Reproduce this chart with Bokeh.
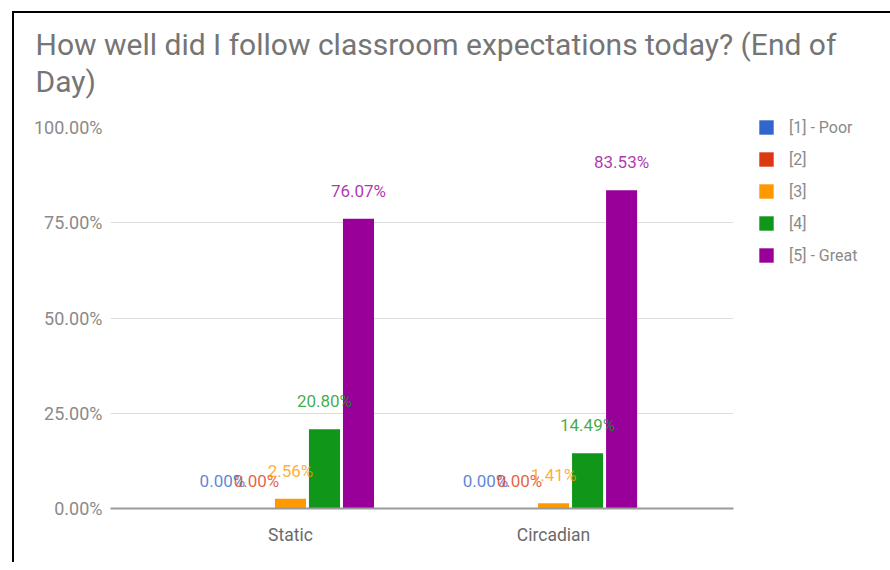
from bokeh.plotting import figure
from bokeh.models import (ColumnDataSource, FactorRange, Range1d, FixedTicker,
                          PrintfTickFormatter, Legend, LegendItem, Title)
from bokeh.transform import dodge
from bokeh.core.properties import value
from bokeh.embed import file_html
from bokeh.resources import INLINE

# ---- data ----
title_line1 = "How well did I follow classroom expectations today? (End of"
title_line2 = "Day)"
categories = ["Static", "Circadian"]
series_names = ["[1] - Poor", "[2]", "[3]", "[4]", "[5] - Great"]
poor = [0.00, 0.00]
rating2 = [0.00, 0.00]
rating3 = [2.56, 1.41]
rating4 = [20.80, 14.49]
great = [76.07, 83.53]
y_ticks = [0, 25, 50, 75, 100]

series_values = [poor, rating2, rating3, rating4, great]
colors = ["#3366cc", "#dc3912", "#ff9900", "#109618", "#990099"]

FONT = "Roboto"

p = figure(x_range=FactorRange(factors=categories, range_padding=0.184),
           y_range=Range1d(0, 100),
           frame_width=623, frame_height=381,
           min_border_left=96, min_border_top=114,
           min_border_right=149, min_border_bottom=54,
           output_backend="svg", toolbar_location=None,
           styles={"margin-left": "12px", "margin-top": "11px",
                   "border-left": "2px solid black", "border-top": "2px solid black",
                   "box-sizing": "content-box", "overflow": "visible"})

p.background_fill_color = "white"
p.border_fill_color = "white"
p.outline_line_color = None

# spacer between the title and the plot, then the two title lines
p.add_layout(Title(text=" ", text_font_size="10px", standoff=16), "above")
for txt in [title_line2, title_line1]:
    t = Title(text=txt, text_font=FONT, text_font_size="30px",
              text_font_style="normal", text_color="#757575",
              align="left", offset=-75, standoff=0)
    p.add_layout(t, "above")

bar_w = 0.118
step = 0.1293
renderers = []
sources = []
for i, (name, vals) in enumerate(zip(series_names, series_values)):
    src = ColumnDataSource(dict(cat=categories, val=vals,
                                lab=["%.2f%%" % v for v in vals]))
    sources.append(src)
    r = p.vbar(x=dodge("cat", (i - 2) * step, range=p.x_range), top="val",
               width=bar_w, source=src, fill_color=colors[i], line_color=None)
    renderers.append(r)

for i, src in enumerate(sources):
    p.text(x=dodge("cat", (i - 2) * step, range=p.x_range), y="val", text="lab",
           source=src, text_align="center", text_baseline="bottom", y_offset=-18,
           text_font=value(FONT), text_font_size="17px", text_color=colors[i],
           text_alpha=0.8)

# axes
p.yaxis.ticker = FixedTicker(ticks=y_ticks)
p.yaxis.formatter = PrintfTickFormatter(format="%.2f%%")
p.yaxis.axis_line_color = None
p.yaxis.major_tick_line_color = None
p.yaxis.minor_tick_line_color = None
p.yaxis.major_tick_out = 0
p.yaxis.major_tick_in = 0
p.yaxis.major_label_standoff = 8
p.yaxis.major_label_text_font = FONT
p.yaxis.major_label_text_font_size = "18px"
p.yaxis.major_label_text_color = "#8a8a8a"

p.xaxis.axis_line_color = "#9a9a9a"
p.xaxis.axis_line_width = 2
p.xaxis.major_tick_line_color = None
p.xaxis.minor_tick_line_color = None
p.xaxis.major_label_standoff = 10
p.xaxis.major_label_text_font = FONT
p.xaxis.major_label_text_font_size = "17.5px"
p.xaxis.major_label_text_color = "#6a6a6a"

p.xgrid.grid_line_color = None
p.ygrid.grid_line_color = "#dedede"
p.ygrid.grid_line_width = 1

# legend (outside the frame, on the right)
legend = Legend(items=[LegendItem(label=n, renderers=[r]) for n, r in zip(series_names, renderers)],
                location=(24, 243))
legend.glyph_width = 18
legend.glyph_height = 18
legend.label_standoff = 14
legend.label_height = 20
legend.spacing = 12
legend.padding = 0
legend.margin = 0
legend.border_line_color = None
legend.background_fill_alpha = 0
legend.label_text_font = FONT
legend.label_text_font_size = "16px"
legend.label_text_color = "#8a8a8a"
p.add_layout(legend, "right")

open("out.html", "w").write(file_html(p, INLINE))
